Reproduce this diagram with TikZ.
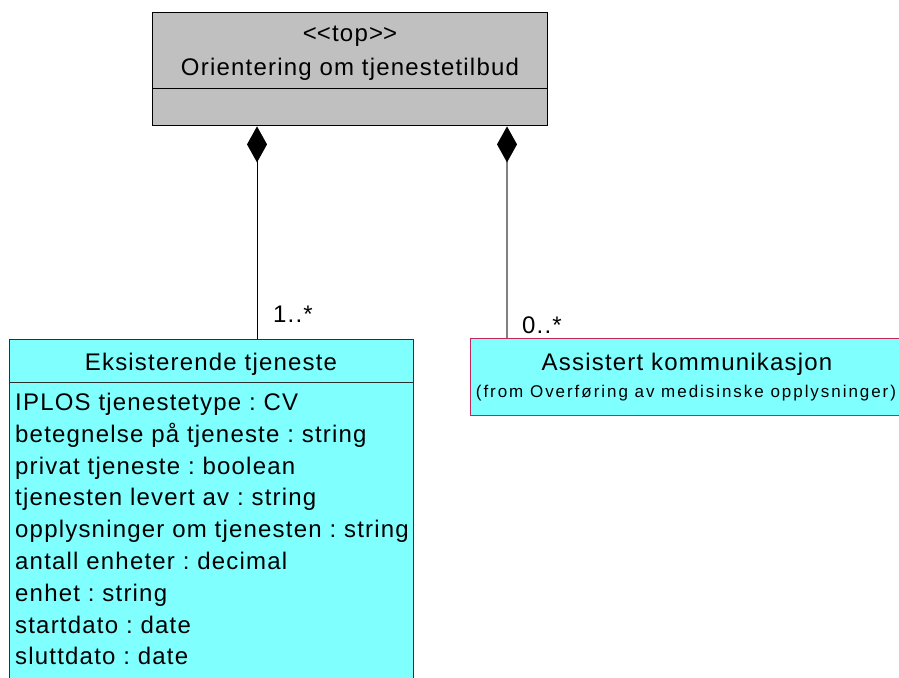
\documentclass[tikz,border=0pt]{standalone}
\usepackage{fontspec}
\setmainfont{Liberation Sans}
\usetikzlibrary{arrows.meta}
\definecolor{clsgray}{HTML}{C0C0C0}
\definecolor{clscyan}{HTML}{80FFFF}
\definecolor{clsred}{HTML}{C0285A}
\definecolor{clsdark}{HTML}{2A3030}
\definecolor{linkgray}{HTML}{808080}
\newcommand{\bigtxt}{\frenchspacing\fontsize{24}{28}\selectfont\addfontfeature{LetterSpace=5}}
\newcommand{\smalltxt}{\frenchspacing\fontsize{17}{20}\selectfont\addfontfeature{LetterSpace=11.5}}
\tikzset{
  classbox/.style={draw, line width=1.4pt, anchor=north west, inner sep=0pt},
  label/.style={inner sep=0pt, anchor=base, font=\bigtxt},
  attr/.style={inner sep=0pt, anchor=base west, font=\bigtxt},
  mult/.style={inner sep=0pt, anchor=base west, font=\bigtxt},
  comp/.style={line width=1pt, {Diamond[length=36pt,width=20pt,color=black,fill=black]}-},
}
\begin{document}
\begin{tikzpicture}[x=1pt,y=-1pt]
\useasboundingbox (0,0) rectangle (899,677);
\clip (0,0) rectangle (899,677);

% composite class
\node[classbox, fill=clsgray, draw=black, minimum width=395pt, minimum height=113pt] (orient) at (152,12) {};
\draw[line width=1pt] (152,88) -- (547,88);
\node[label] (orientst) at (350,42) {<\kern0pt<top>\kern0pt>};
\node[label] (orientnm) at (350,75) {Orientering om tjenestetilbud};

% part class with attributes
\node[classbox, fill=clscyan, draw=clsdark, minimum width=404pt, minimum height=360pt] (eks) at (9,339) {};
\draw[line width=1pt, draw=clsdark] (9,382) -- (413,382);
\node[label] (eksnm) at (211,370) {Eksisterende tjeneste};
\node[attr] (a1) at (15,410) {IPLOS tjenestetype : CV};
\node[attr] (a2) at (15,442) {betegnelse på tjeneste : string};
\node[attr] (a3) at (15,474) {privat tjeneste : boolean};
\node[attr] (a4) at (15,505) {tjenesten levert av : string};
\node[attr] (a5) at (15,537) {opplysninger om tjenesten : string};
\node[attr] (a6) at (15,569) {antall enheter : decimal};
\node[attr] (a7) at (15,601) {enhet : string};
\node[attr] (a8) at (15,633) {startdato : date};
\node[attr] (a9) at (15,664) {sluttdato : date};

% referenced class from another package
\node[classbox, fill=clscyan, draw=clsred, line width=1pt, minimum width=440pt, minimum height=77pt] (ask) at (470,338) {};
\node[label] (asknm) at (687,370) {Assistert kommunikasjon};
\node[inner sep=0pt, anchor=base, font=\smalltxt] (askfrom) at (686,397) {(from Overføring av medisinske opplysninger)};

% composition connectors
\coordinate (cl) at (257,0);
\coordinate (cr) at (507,0);
\draw[comp, draw=black] (orient.south -| cl) -- (eks.north -| cl);
\draw[comp, draw=linkgray, line width=1.3pt] (orient.south -| cr) -- (ask.north -| cr);
\node[mult] (m1) at (273,322) {1..*};
\node[mult] (m2) at (522,333) {0..*};
\end{tikzpicture}
\end{document}
